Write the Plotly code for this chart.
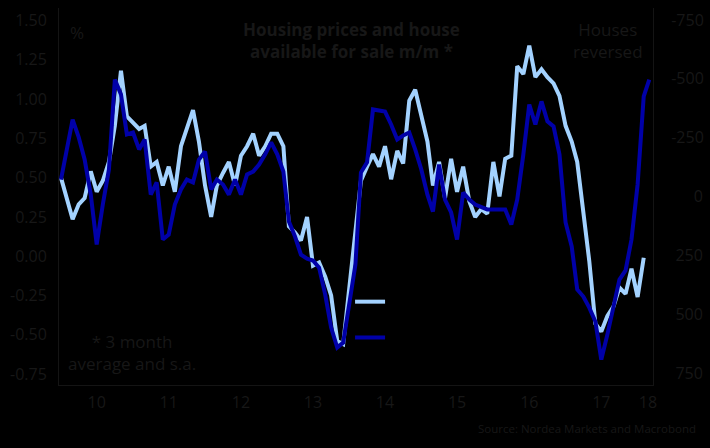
import pandas as pd
import plotly.graph_objects as go

# Monthly data, Jan 2010 onwards
prices_mm = [0.50, 0.35, 0.235, 0.33, 0.37, 0.54, 0.41, 0.48, 0.60, 0.83,
             1.18, 0.89, 0.85, 0.81, 0.83, 0.57, 0.60, 0.45, 0.57, 0.41,
             0.70, 0.81, 0.93, 0.73, 0.45, 0.25, 0.45, 0.53, 0.60, 0.45,
             0.64, 0.70, 0.78, 0.64, 0.70, 0.78, 0.78, 0.70, 0.19, 0.15,
             0.10, 0.25, -0.06, -0.04, -0.13, -0.25, -0.54, -0.56, -0.22, 0.15,
             0.48, 0.57, 0.65, 0.57, 0.70, 0.49, 0.67, 0.59, 0.99, 1.06,
             0.89, 0.73, 0.45, 0.60, 0.37, 0.62, 0.41, 0.57, 0.35, 0.25,
             0.30, 0.27, 0.60, 0.38, 0.62, 0.64, 1.21, 1.16, 1.34, 1.14,
             1.19, 1.14, 1.10, 1.02, 0.83, 0.73, 0.60, 0.29, -0.03, -0.43,
             -0.48, -0.38, -0.32, -0.20, -0.24, -0.08, -0.26, -0.01]

houses_mm = [-72, -200, -327, -251, -157, -8, 204, 34, -115, -497,
             -434, -264, -272, -200, -242, -8, -60, 183, 162, 34,
             -30, -72, -60, -157, -191, -30, -72, -51, -8, -72,
             -8, -94, -106, -136, -179, -230, -179, -106, 106, 170,
             247, 264, 272, 302, 417, 557, 642, 621, 459, 289,
             -102, -145, -370, -366, -361, -306, -242, -259, -272, -200,
             -115, -8, 64, -136, 13, 68, 183, -17, 13, 34,
             43, 55, 55, 55, 55, 119, 13, -179, -391, -306,
             -404, -319, -298, -179, 110, 212, 395, 425, 472, 531,
             693, 586, 459, 353, 314, 183, -51, -425, -497]

prices_dates = pd.date_range("2010-01-01", periods=len(prices_mm), freq="MS")
houses_dates = pd.date_range("2010-01-01", periods=len(houses_mm), freq="MS")

x_tickvals = ["2010-07-01", "2011-07-01", "2012-07-01", "2013-07-01", "2014-07-01",
              "2015-07-01", "2016-07-01", "2017-07-01", "2018-02-22"]
x_ticktext = ["10", "11", "12", "13", "14", "15", "16", "17", "18"]

left_tickvals = [1.5, 1.25, 1.0, 0.75, 0.5, 0.25, 0.0, -0.25, -0.5, -0.75]
left_ticktext = ["1.50", "1.25", "1.00", "0.75", "0.50", "0.25", "0.00", "-0.25", "-0.50", "-0.75"]

right_tickvals = [-750, -500, -250, 0, 250, 500, 750]
right_ticktext = ["-750", "-500", "-250", "\u2007\u2007\u20080", "\u2008250", "\u2008500", "\u2008750"]

TXT = "#171717"
FONT = "Open Sans"
LIGHT = "#a3d2ff"
DARK = "#0000a8"

fig = go.Figure()
fig.add_trace(go.Scatter(x=houses_dates, y=houses_mm, mode="lines", name="Houses for sale, rhs",
                         line=dict(color=DARK, width=4), yaxis="y2", legend="legend2"))
fig.add_trace(go.Scatter(x=prices_dates, y=prices_mm, mode="lines", name="Housing prices, lhs",
                         line=dict(color=LIGHT, width=4), yaxis="y", legend="legend"))

fig.update_layout(
    width=710, height=448,
    margin=dict(l=59, r=57, t=8, b=63, autoexpand=False),
    paper_bgcolor="black", plot_bgcolor="black",
    font=dict(family=FONT, size=16, color=TXT),
    xaxis=dict(range=["2009-12-22", "2018-03-20"], tickvals=x_tickvals, ticktext=x_ticktext,
               showgrid=False, zeroline=False, showline=True, linecolor="#141414", linewidth=1,
               ticks="outside", ticklen=3, tickcolor="black", tickfont=dict(size=16, color=TXT),
               automargin=False),
    yaxis=dict(range=[-0.82, 1.58], tickvals=left_tickvals, ticktext=left_ticktext,
               showgrid=False, zeroline=False, showline=True, linecolor="#141414", linewidth=1,
               ticks="outside", ticklen=8, tickcolor="black", tickfont=dict(size=16, color=TXT),
               automargin=False),
    yaxis2=dict(range=[801, -801], overlaying="y", side="right", tickvals=right_tickvals,
                ticktext=right_ticktext, showgrid=False, zeroline=False, showline=True,
                linecolor="#141414", linewidth=1, ticks="outside", ticklen=14, tickcolor="black",
                tickfont=dict(size=16, color=TXT), automargin=False),
    legend=dict(x=0.49, y=0.22, xanchor="left", yanchor="middle", bgcolor="rgba(0,0,0,0)",
                font=dict(size=14, color="black")),
    legend2=dict(x=0.49, y=0.125, xanchor="left", yanchor="middle", bgcolor="rgba(0,0,0,0)",
                 font=dict(size=14, color="black")),
    showlegend=True,
)

fig.add_annotation(text="<b>Housing prices and house<br>available for sale m/m *</b>",
                   xref="paper", yref="paper", x=0.492, y=0.978, xanchor="center", yanchor="top",
                   showarrow=False, font=dict(size=17, color=TXT))
fig.add_annotation(text="Houses<br>reversed", xref="paper", yref="paper", x=0.925, y=0.978,
                   xanchor="center", yanchor="top", showarrow=False, font=dict(size=17, color=TXT))
fig.add_annotation(text="%", xref="paper", yref="paper", x=0.015, y=0.936,
                   xanchor="left", yanchor="middle", showarrow=False, font=dict(size=17, color=TXT))
fig.add_annotation(text="* 3 month<br>average and s.a.", xref="paper", yref="paper", x=0.123, y=0.02,
                   xanchor="center", yanchor="bottom", showarrow=False, font=dict(size=17, color=TXT))
fig.add_annotation(text="Source: Nordea Markets and Macrobond", xref="paper", yref="paper",
                   x=1.076, y=-0.115, xanchor="right", yanchor="middle", showarrow=False,
                   font=dict(size=11.5, color=TXT))

fig.write_html("out.html")
